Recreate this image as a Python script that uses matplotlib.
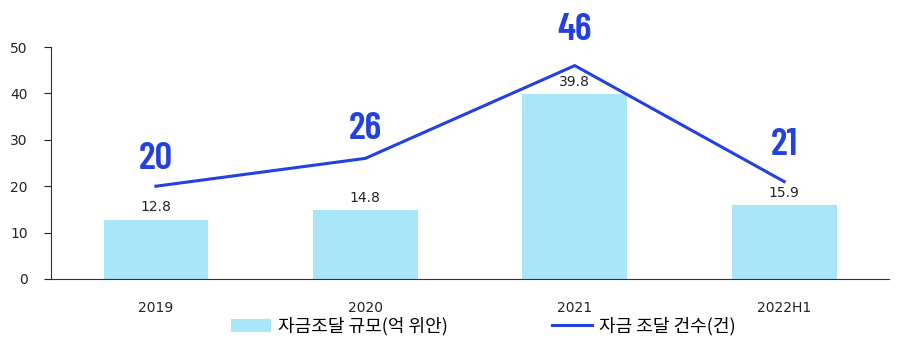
import matplotlib
matplotlib.use("Agg")
import matplotlib.pyplot as plt
import numpy as np

years = ["2019", "2020", "2021", "2022H1"]
amount = [12.8, 14.8, 39.8, 15.9]   # 자금조달 규모(억 위안)
deals = [20, 26, 46, 21]            # 자금 조달 건수(건)

bar_color = "#A8E6F8"
line_color = "#2340E0"

plt.rcParams['font.family'] = ['DejaVu Sans', 'Noto Sans CJK KR']

fig = plt.figure(figsize=(9.07, 3.52), dpi=100)
ax = fig.add_axes([0.0565, 0.2074, 0.9235, 0.659])

x = np.arange(len(years))
bars = ax.bar(x, amount, width=0.5, color=bar_color, zorder=2)
line, = ax.plot(x, deals, color=line_color, lw=2.2, zorder=3)

for xi, v in zip(x, amount):
    ax.annotate(f"{v}", (xi, v), xytext=(0, 4), textcoords="offset points",
                ha="center", va="bottom", fontsize=10, color="#222222")

big_off = [22, 24, 28, 28.5]
for xi, v, off in zip(x, deals, big_off):
    ax.annotate(str(v), (xi, v), xytext=(0, off), textcoords="offset points",
                ha="center", va="center_baseline", fontsize=28, fontweight=600,
                color=line_color, family=["Barlow Condensed", "DejaVu Sans"])

ax.set_xlim(-0.5, 3.5)
ax.set_ylim(0, 50)
ax.set_yticks([0, 10, 20, 30, 40, 50])
ax.set_xticks(x)
ax.set_xticklabels(years)
ax.tick_params(axis="x", length=0, pad=16, labelsize=10, colors="#222222")
ax.tick_params(axis="y", length=5, pad=12, labelsize=10, colors="#222222")
ax.spines["top"].set_visible(False)
ax.spines["right"].set_visible(False)
ax.spines["left"].set_color("#333333")
ax.spines["bottom"].set_color("#333333")

fig.legend(handles=[bars, line], labels=["자금조달 규모(억 위안)", "자금 조달 건수(건)"],
           loc="lower center", bbox_to_anchor=(0.533, 0.0), ncol=2, frameon=False,
           columnspacing=5.8, handlelength=2.2, handletextpad=0.4,
           prop={"family": ["Noto Sans CJK KR"], "size": 13})

fig.savefig("out.png", dpi=100)
